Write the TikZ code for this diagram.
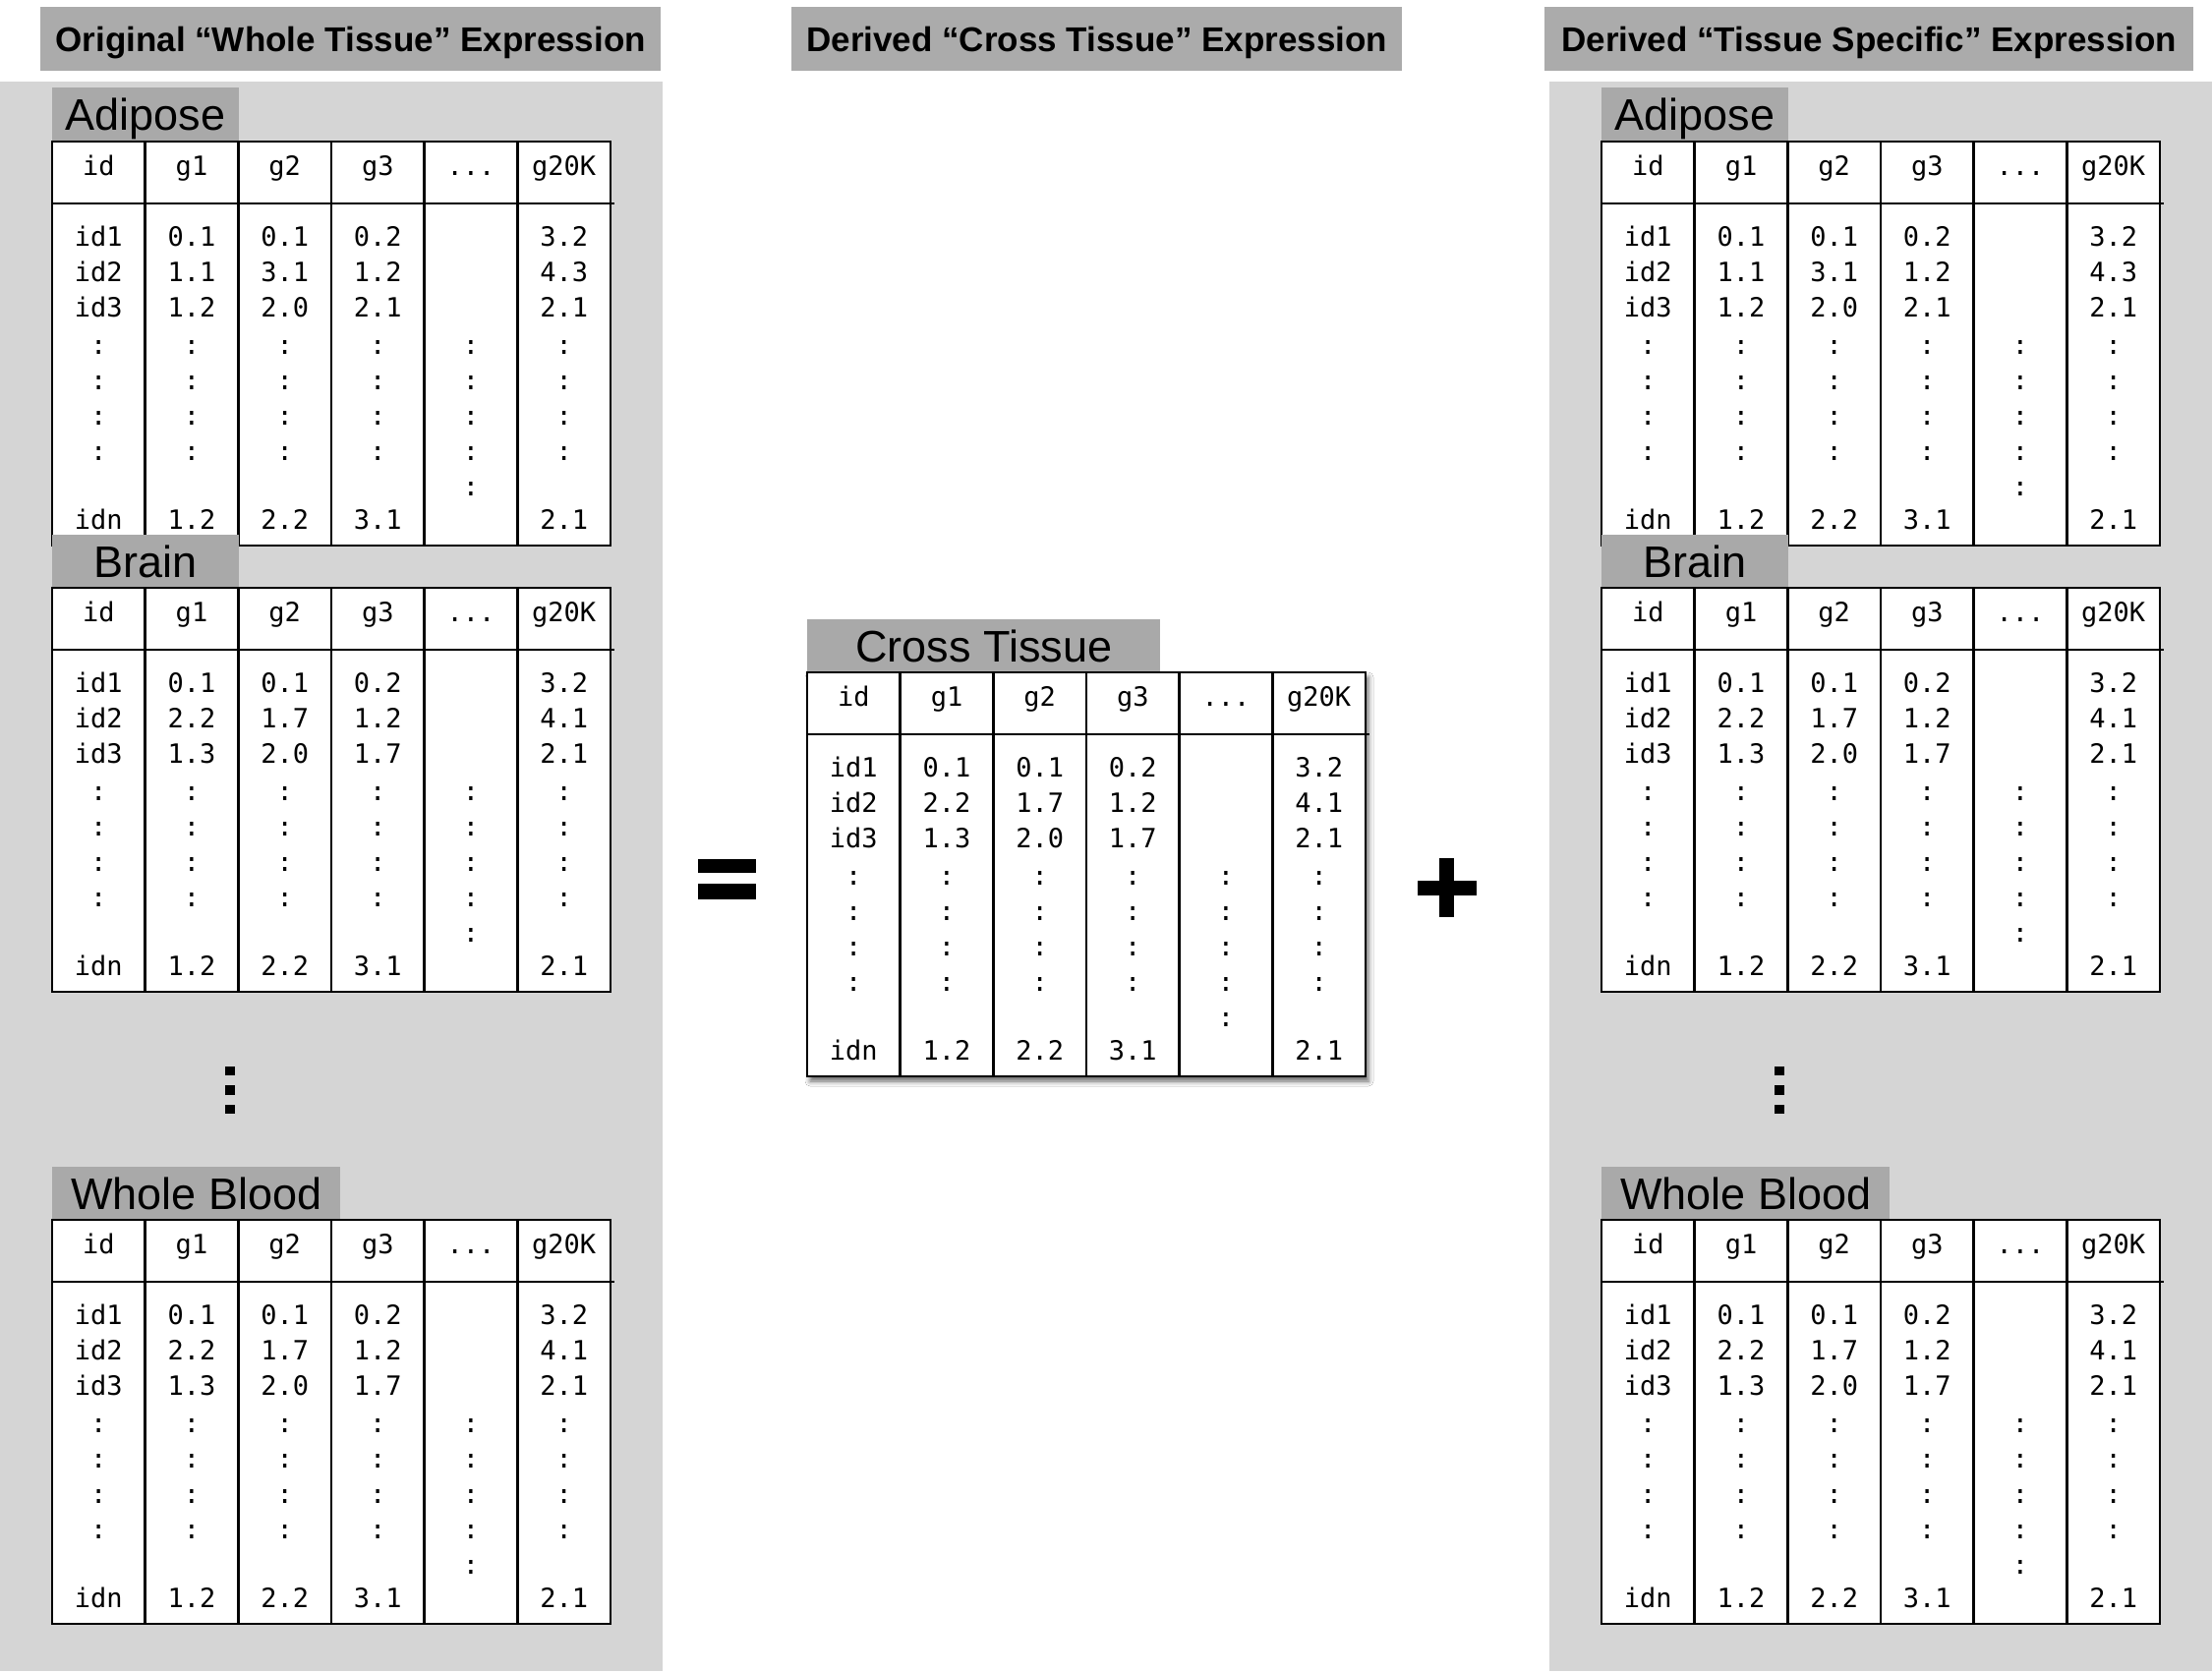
\documentclass[tikz,border=0pt]{standalone}
\usepackage{fontspec}
\setmainfont{Liberation Sans}
\newfontfamily\monof{DejaVu Sans Mono}
\usetikzlibrary{shadows.blur}
\definecolor{panelgray}{HTML}{D5D5D5}
\definecolor{titlegray}{HTML}{ABABAB}
\definecolor{labelgray}{HTML}{A9A9A9}
\def\adiposedata{0/id/id1/id2/id3/idn,1/g1/0.1/1.1/1.2/1.2,2/g2/0.1/3.1/2.0/2.2,3/g3/0.2/1.2/2.1/3.1,5/g20K/3.2/4.3/2.1/2.1}
\def\otherdata{0/id/id1/id2/id3/idn,1/g1/0.1/2.2/1.3/1.2,2/g2/0.1/1.7/2.0/2.2,3/g3/0.2/1.2/1.7/3.1,5/g20K/3.2/4.1/2.1/2.1}
\tikzset{
  tableframe/.style={draw, line width=2.5pt, fill=white, anchor=north west,
    minimum width=568pt, minimum height=411pt, inner sep=0pt, outer sep=0pt},
  tableline/.style={line width=2.5pt},
  cell/.style={font={\monof\fontsize{27}{32}\selectfont}, anchor=base, inner sep=0pt},
  colon/.style={font={\monof\fontsize{27}{32}\selectfont}, anchor=base, inner sep=0pt, yscale=1.25},
  labelbox/.style={fill=labelgray, anchor=north west, minimum height=54pt, inner sep=0pt,
    text height=33pt, text depth=0pt, font={\fontsize{45}{54}\selectfont}},
  titlebox/.style={fill=titlegray, anchor=north west, minimum height=65pt, inner sep=0pt,
    text height=25pt, text depth=0pt, font={\bfseries\fontsize{35}{42}\selectfont}},
  opbar/.style={fill=black}
}
\newcommand{\exprtable}[5]{%
  \begin{scope}[shift={(#2,#3)}]
    \node[tableframe,#5] (#1) at (0,0) {};
    \foreach \k in {1,...,5} \draw[tableline] (\k*94.67,0) -- (\k*94.67,411);
    \draw[tableline] (0,63) -- (572,63);
    \foreach \col/\hd/\va/\vb/\vd/\vn in #4 {
      \node[cell] (#1-h\col) at (47.33+\col*94.67,34) {\hd};
      \node[cell] (#1-\col-1) at (47.33+\col*94.67,106) {\va};
      \node[cell] (#1-\col-2) at (47.33+\col*94.67,142) {\vb};
      \node[cell] (#1-\col-3) at (47.33+\col*94.67,178) {\vd};
      \node[cell] (#1-\col-n) at (47.33+\col*94.67,394) {\vn};
      \foreach \r in {1,...,4}
        \node[cell] (#1-\col-v\r) at (47.33+\col*94.67,180+\r*36) {:};
    }
    \node[cell] (#1-h4) at (47.33+4*94.67,34) {...};
    \foreach \r in {1,...,5}
      \node[cell] (#1-4-v\r) at (47.33+4*94.67,180+\r*36) {:};
  \end{scope}}
\begin{document}
\begin{tikzpicture}[x=1pt,y=-1pt]
  \useasboundingbox (0,0) rectangle (2250,1700);
  \fill[white] (0,0) rectangle (2250,1700);
  % panels
  \fill[panelgray] (0,83) rectangle (674,1700);
  \fill[panelgray] (1576,83) rectangle (2250,1700);
  % titles
  \node[titlebox, minimum width=631pt] (tL) at (41,7) {Original “Whole Tissue” Expression};
  \node[titlebox, minimum width=621pt] (tM) at (805,7) {Derived “Cross Tissue” Expression};
  \node[titlebox, minimum width=660pt] (tR) at (1571,7) {Derived “Tissue Specific” Expression};
  % left column
  \node[labelbox, minimum width=190pt] (adLlab) at (53,89) {Adipose};
  \exprtable{adL}{53}{144}{\adiposedata}{}
  \node[labelbox, minimum width=190pt] (brLlab) at (53,544) {Brain};
  \exprtable{brL}{53}{598}{\otherdata}{}
  \node[labelbox, minimum width=293pt] (wbLlab) at (53,1187) {Whole Blood};
  \exprtable{wbL}{53}{1241}{\otherdata}{}
  \fill (229,1085) rectangle (239,1094);
  \fill (229,1104) rectangle (239,1114);
  \fill (229,1124) rectangle (239,1133);
  % right column
  \node[labelbox, minimum width=190pt] (adRlab) at (1629,89) {Adipose};
  \exprtable{adR}{1629}{144}{\adiposedata}{}
  \node[labelbox, minimum width=190pt] (brRlab) at (1629,544) {Brain};
  \exprtable{brR}{1629}{598}{\otherdata}{}
  \node[labelbox, minimum width=293pt] (wbRlab) at (1629,1187) {Whole Blood};
  \exprtable{wbR}{1629}{1241}{\otherdata}{}
  \fill (1805,1085) rectangle (1815,1094);
  \fill (1805,1104) rectangle (1815,1114);
  \fill (1805,1124) rectangle (1815,1133);
  % middle
  \node[labelbox, minimum width=359pt] (crlab) at (821,630) {Cross Tissue};
  \exprtable{cross}{821}{684}{\otherdata}{blur shadow={shadow xshift=3pt, shadow yshift=-5pt, shadow blur radius=5pt, shadow opacity=60}}
  % equals
  \fill[opbar] (710,874) rectangle (769,888);
  \fill[opbar] (710,899) rectangle (769,915);
  % plus
  \fill[opbar] (1464,873) rectangle (1479,933);
  \fill[opbar] (1442,896) rectangle (1502,911);
\end{tikzpicture}
\end{document}
